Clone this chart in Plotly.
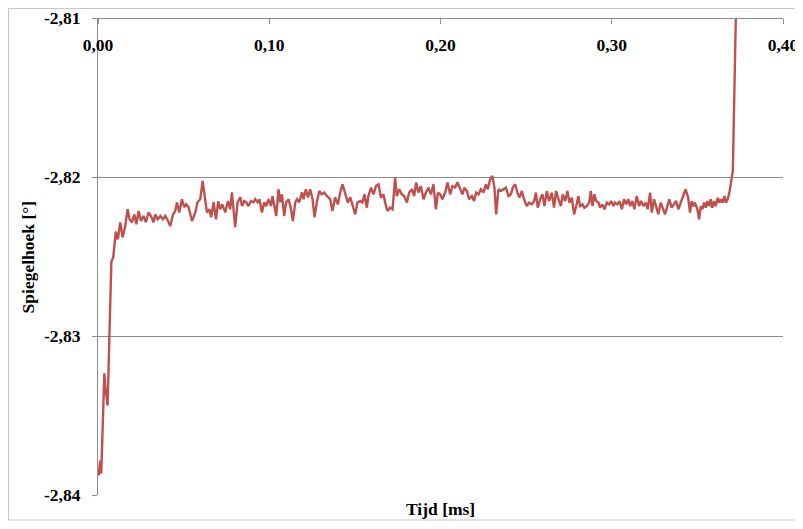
import plotly.graph_objects as go

# Time [ms] and mirror angle [deg]
tijd_ms = [
    0.0004, 0.0013, 0.0019, 0.0037, 0.0043, 0.0056, 0.0078, 0.0089, 0.0104, 0.0116,
    0.0130, 0.0144, 0.0159, 0.0173, 0.0184, 0.0198, 0.0212, 0.0224, 0.0237, 0.0251,
    0.0266, 0.0280, 0.0295, 0.0309, 0.0325, 0.0334, 0.0348, 0.0364, 0.0379, 0.0393,
    0.0409, 0.0422, 0.0438, 0.0451, 0.0461, 0.0475, 0.0490, 0.0504, 0.0515, 0.0529,
    0.0549, 0.0568, 0.0581, 0.0597, 0.0611, 0.0626, 0.0636, 0.0650, 0.0661, 0.0675,
    0.0689, 0.0702, 0.0714, 0.0726, 0.0743, 0.0759, 0.0772, 0.0782, 0.0792, 0.0801,
    0.0815, 0.0831, 0.0841, 0.0854, 0.0866, 0.0879, 0.0893, 0.0908, 0.0918, 0.0932,
    0.0943, 0.0957, 0.0971, 0.0982, 0.0996, 0.1010, 0.1019, 0.1031, 0.1041, 0.1054,
    0.1064, 0.1074, 0.1087, 0.1099, 0.1113, 0.1127, 0.1138, 0.1152, 0.1162, 0.1175,
    0.1191, 0.1200, 0.1214, 0.1226, 0.1239, 0.1253, 0.1264, 0.1278, 0.1292, 0.1307,
    0.1321, 0.1337, 0.1356, 0.1369, 0.1385, 0.1401, 0.1414, 0.1428, 0.1444, 0.1459,
    0.1473, 0.1486, 0.1502, 0.1515, 0.1531, 0.1544, 0.1556, 0.1570, 0.1579, 0.1594,
    0.1609, 0.1623, 0.1638, 0.1652, 0.1667, 0.1677, 0.1690, 0.1706, 0.1720, 0.1735,
    0.1745, 0.1759, 0.1774, 0.1788, 0.1804, 0.1817, 0.1833, 0.1846, 0.1858, 0.1871,
    0.1885, 0.1901, 0.1915, 0.1930, 0.1944, 0.1959, 0.1973, 0.1985, 0.1998, 0.2011,
    0.2027, 0.2041, 0.2056, 0.2070, 0.2086, 0.2099, 0.2115, 0.2128, 0.2140, 0.2154,
    0.2167, 0.2183, 0.2196, 0.2208, 0.2222, 0.2236, 0.2251, 0.2265, 0.2276, 0.2290,
    0.2303, 0.2315, 0.2325, 0.2338, 0.2352, 0.2368, 0.2382, 0.2397, 0.2411, 0.2422,
    0.2436, 0.2449, 0.2461, 0.2475, 0.2488, 0.2504, 0.2517, 0.2533, 0.2547, 0.2557,
    0.2568, 0.2582, 0.2595, 0.2607, 0.2621, 0.2634, 0.2650, 0.2663, 0.2675, 0.2689,
    0.2703, 0.2714, 0.2728, 0.2741, 0.2753, 0.2767, 0.2780, 0.2795, 0.2805, 0.2815,
    0.2829, 0.2840, 0.2854, 0.2868, 0.2878, 0.2887, 0.2899, 0.2909, 0.2922, 0.2932,
    0.2945, 0.2957, 0.2971, 0.2984, 0.2996, 0.3010, 0.3019, 0.3033, 0.3045, 0.3059,
    0.3072, 0.3084, 0.3097, 0.3107, 0.3120, 0.3132, 0.3146, 0.3160, 0.3171, 0.3185,
    0.3199, 0.3210, 0.3224, 0.3234, 0.3247, 0.3259, 0.3272, 0.3286, 0.3298, 0.3311,
    0.3325, 0.3336, 0.3350, 0.3364, 0.3376, 0.3389, 0.3403, 0.3416, 0.3431, 0.3446,
    0.3457, 0.3467, 0.3476, 0.3486, 0.3500, 0.3510, 0.3520, 0.3529, 0.3539, 0.3549,
    0.3558, 0.3568, 0.3578, 0.3587, 0.3597, 0.3607, 0.3619, 0.3628, 0.3638, 0.3648,
    0.3658, 0.3667, 0.3677, 0.3687, 0.3695, 0.3701, 0.3707, 0.3728,
]

spiegelhoek = [
    -2.83877, -2.83783, -2.83865, -2.83235, -2.83323, -2.83437, -2.82531, -2.82506, -2.82343, -2.82392,
    -2.82285, -2.82380, -2.82308, -2.82203, -2.82266, -2.82285, -2.82235, -2.82298, -2.82214, -2.82277,
    -2.82245, -2.82285, -2.82223, -2.82245, -2.82285, -2.82235, -2.82266, -2.82245, -2.82266, -2.82245,
    -2.82277, -2.82308, -2.82235, -2.82214, -2.82161, -2.82223, -2.82140, -2.82190, -2.82172, -2.82190,
    -2.82277, -2.82223, -2.82159, -2.82140, -2.82025, -2.82140, -2.82223, -2.82203, -2.82253, -2.82159,
    -2.82266, -2.82153, -2.82203, -2.82172, -2.82223, -2.82151, -2.82203, -2.82096, -2.82223, -2.82316,
    -2.82159, -2.82128, -2.82183, -2.82151, -2.82159, -2.82183, -2.82151, -2.82159, -2.82140, -2.82159,
    -2.82140, -2.82223, -2.82159, -2.82183, -2.82140, -2.82183, -2.82120, -2.82183, -2.82245, -2.82077,
    -2.82159, -2.82109, -2.82245, -2.82159, -2.82140, -2.82203, -2.82277, -2.82159, -2.82140, -2.82159,
    -2.82096, -2.82140, -2.82077, -2.82128, -2.82077, -2.82140, -2.82253, -2.82159, -2.82088, -2.82109,
    -2.82098, -2.82120, -2.82140, -2.82214, -2.82128, -2.82172, -2.82098, -2.82046, -2.82098, -2.82161,
    -2.82128, -2.82183, -2.82235, -2.82161, -2.82151, -2.82161, -2.82109, -2.82193, -2.82120, -2.82067,
    -2.82109, -2.82057, -2.82046, -2.82130, -2.82109, -2.82161, -2.82214, -2.82193, -2.82203, -2.82004,
    -2.82120, -2.82077, -2.82109, -2.82120, -2.82161, -2.82098, -2.82077, -2.82120, -2.82035, -2.82098,
    -2.82057, -2.82140, -2.82098, -2.82067, -2.82109, -2.82046, -2.82203, -2.82098, -2.82109, -2.82140,
    -2.82098, -2.82035, -2.82109, -2.82057, -2.82065, -2.82033, -2.82077, -2.82109, -2.82067, -2.82088,
    -2.82140, -2.82120, -2.82151, -2.82098, -2.82109, -2.82077, -2.82098, -2.82046, -2.82077, -2.82014,
    -2.81994, -2.82067, -2.82235, -2.82077, -2.82088, -2.82077, -2.82067, -2.82120, -2.82109, -2.82067,
    -2.82046, -2.82098, -2.82130, -2.82088, -2.82140, -2.82183, -2.82161, -2.82172, -2.82151, -2.82098,
    -2.82193, -2.82140, -2.82109, -2.82183, -2.82088, -2.82151, -2.82098, -2.82193, -2.82088, -2.82140,
    -2.82183, -2.82109, -2.82151, -2.82088, -2.82161, -2.82130, -2.82235, -2.82172, -2.82120, -2.82183,
    -2.82172, -2.82193, -2.82183, -2.82161, -2.82088, -2.82183, -2.82109, -2.82151, -2.82161, -2.82193,
    -2.82172, -2.82203, -2.82161, -2.82172, -2.82151, -2.82183, -2.82161, -2.82172, -2.82151, -2.82203,
    -2.82140, -2.82172, -2.82140, -2.82183, -2.82151, -2.82203, -2.82120, -2.82183, -2.82151, -2.82183,
    -2.82161, -2.82203, -2.82098, -2.82224, -2.82140, -2.82183, -2.82235, -2.82161, -2.82193, -2.82235,
    -2.82183, -2.82140, -2.82193, -2.82172, -2.82151, -2.82203, -2.82161, -2.82134, -2.82077, -2.82128,
    -2.82224, -2.82151, -2.82183, -2.82161, -2.82203, -2.82266, -2.82183, -2.82203, -2.82161, -2.82193,
    -2.82151, -2.82183, -2.82140, -2.82193, -2.82151, -2.82183, -2.82130, -2.82161, -2.82140, -2.82161,
    -2.82120, -2.82161, -2.82140, -2.82098, -2.82035, -2.82014, -2.81962, -2.80805,
]

x_tick_vals = [0.0, 0.1, 0.2, 0.3, 0.4]
x_tick_labels = ["0,00", "0,10", "0,20", "0,30", "0,40"]
y_tick_vals = [-2.84, -2.83, -2.82, -2.81]
y_tick_labels = ["-2,84", "-2,83", "-2,82", "-2,81"]

x_title = "Tijd [ms]"
y_title = "Spiegelhoek [°]"

FONT = "Liberation Serif, Times New Roman, serif"
FS = 17.5
GRID = "#8c8c8c"

fig = go.Figure()
fig.add_trace(go.Scatter(
    x=tijd_ms, y=spiegelhoek, mode="lines",
    line=dict(color="#C0504D", width=2.4),
    showlegend=False, hoverinfo="x+y",
))

fig.update_layout(
    width=795, height=513,
    margin=dict(l=90, r=20, t=10, b=26),
    paper_bgcolor="white", plot_bgcolor="white",
    font=dict(family=FONT, size=FS, color="black"),
    xaxis=dict(
        range=[0, 0.4], tickvals=x_tick_vals, ticktext=x_tick_labels,
        side="bottom", anchor="free", position=1, automargin=False,
        ticklabeloverflow="allow",
        showline=True, linecolor=GRID, linewidth=1,
        ticks="outside", ticklen=5, tickcolor=GRID, tickwidth=1,
        ticklabelstandoff=6,
        showgrid=False, zeroline=False,
        tickfont=dict(family=FONT, size=FS, color="black", weight="bold"),
    ),
    yaxis=dict(
        range=[-2.84, -2.81], tickvals=y_tick_vals, ticktext=y_tick_labels,
        automargin=False,
        showline=True, linecolor=GRID, linewidth=1,
        ticks="outside", ticklen=5, tickcolor=GRID, tickwidth=1,
        ticklabelstandoff=8,
        showgrid=True, gridcolor=GRID, gridwidth=1, zeroline=False,
        tickfont=dict(family=FONT, size=FS, color="black", weight="bold"),
    ),
    annotations=[
        dict(text="<b>" + x_title + "</b>", xref="paper", yref="paper",
             x=0.5, y=-0.0294, xanchor="center", yanchor="middle",
             showarrow=False, font=dict(family=FONT, size=FS, color="black")),
        dict(text="<b>" + y_title + "</b>", xref="paper", yref="paper",
             x=-0.1023, y=0.5, xanchor="center", yanchor="middle", textangle=-90,
             showarrow=False, font=dict(family=FONT, size=FS, color="black")),
    ],
    shapes=[
        dict(type="rect", xref="paper", yref="paper",
             x0=-0.1307, x1=1.0248, y0=-0.0524, y1=1.0199,
             line=dict(color="#c8c8c8", width=1.2), fillcolor="rgba(0,0,0,0)",
             layer="below"),
    ],
)

fig.write_html("out.html")
